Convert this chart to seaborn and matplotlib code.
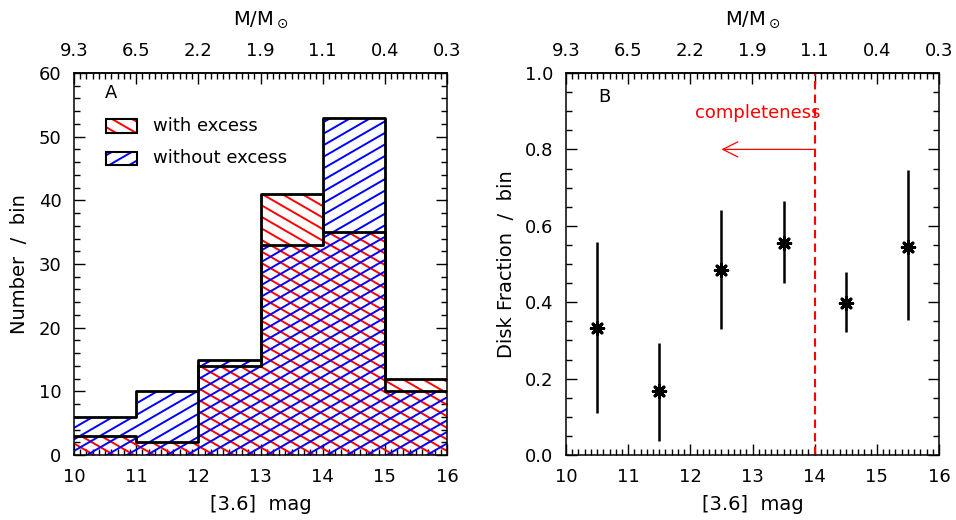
import numpy as np
import matplotlib
matplotlib.use("Agg")
import matplotlib.pyplot as plt
import seaborn as sns
from matplotlib.path import Path
from matplotlib.patches import PathPatch, Rectangle
from matplotlib.collections import LineCollection
from matplotlib.ticker import MultipleLocator, FormatStrFormatter

# ---------------- data ----------------
bin_edges = [10, 11, 12, 13, 14, 15, 16]
with_excess = [3, 2, 14, 41, 35, 12]
without_excess = [6, 10, 15, 33, 53, 10]

frac_mag = [10.5, 11.5, 12.5, 13.5, 14.5, 15.5]
disk_frac = [0.333, 0.167, 0.483, 0.554, 0.398, 0.545]
frac_lo = [0.111, 0.037, 0.329, 0.451, 0.321, 0.353]
frac_hi = [0.557, 0.294, 0.642, 0.665, 0.479, 0.745]

mass_ticks = [10, 11, 12, 13, 14, 15, 16]
mass_labels = ["9.3", "6.5", "2.2", "1.9", "1.1", "0.4", "0.3"]
completeness_mag = 14.0

# ---------------- style ----------------
sns.set_theme(style="ticks")
plt.rcParams["font.family"] = ["DejaVu Sans"]
plt.rcParams["axes.linewidth"] = 1.1
for k in ("text.color", "axes.labelcolor", "xtick.color", "ytick.color", "axes.edgecolor"):
    plt.rcParams[k] = "black"
FS = 13
FL = 14

W_PX, H_PX = 956, 520
fig = plt.figure(figsize=(W_PX / 100, H_PX / 100), dpi=100)
ax_l, ax_r, ax_t, ax_b = 74, 447, 73, 455
axA = fig.add_axes([ax_l / W_PX, 1 - ax_b / H_PX, (ax_r - ax_l) / W_PX, (ax_b - ax_t) / H_PX])
bx_l = 566
axB = fig.add_axes([bx_l / W_PX, 1 - ax_b / H_PX, (ax_r - ax_l) / W_PX, (ax_b - ax_t) / H_PX])
AW, AH = ax_r - ax_l, ax_b - ax_t


def style_axes(ax, ymajor, yminor):
    ax.set_xlim(bin_edges[0], bin_edges[-1])
    ax.xaxis.set_major_locator(MultipleLocator(1))
    ax.xaxis.set_minor_locator(MultipleLocator(0.1))
    ax.yaxis.set_major_locator(MultipleLocator(ymajor))
    ax.yaxis.set_minor_locator(MultipleLocator(yminor))
    ax.tick_params(which="both", direction="in", top=False, right=True,
                   colors="black", labelsize=FS, width=1.0)
    ax.tick_params(which="major", length=8, pad=9)
    ax.tick_params(which="minor", length=4)
    for s in ax.spines.values():
        s.set_color("black")
        s.set_linewidth(1.1)
    sec = ax.secondary_xaxis("top")
    sec.set_xticks(mass_ticks, labels=mass_labels)
    sec.xaxis.set_minor_locator(MultipleLocator(0.1))
    sec.tick_params(which="both", direction="in", labelsize=FS, width=1.0, colors="black")
    sec.tick_params(which="major", length=8, pad=9)
    sec.tick_params(which="minor", length=4)
    sec.spines["top"].set_linewidth(1.1)
    ax.set_xlabel("")
    ax.set_ylabel("")


def hatch_lines(ax, angle_deg, spacing, color, clip_path):
    t = np.tan(np.radians(angle_deg))
    step = spacing / np.cos(np.radians(angle_deg))
    if t > 0:
        cs = np.arange(-AW * t, AH + step, step)
    else:
        cs = np.arange(0, AH - AW * t + step, step)
    segs = [[(0, c / AH), (1, (c + AW * t) / AH)] for c in cs]
    lc = LineCollection(segs, colors=color, linewidths=1.4, transform=ax.transAxes, zorder=2)
    ax.add_collection(lc)
    pp = PathPatch(clip_path, transform=ax.transData, facecolor="none", edgecolor="none")
    lc.set_clip_path(pp)


def rect_path(rects):
    verts, codes = [], []
    for (x0, x1, y0, y1) in rects:
        verts += [(x0, y0), (x1, y0), (x1, y1), (x0, y1), (x0, y0)]
        codes += [Path.MOVETO, Path.LINETO, Path.LINETO, Path.LINETO, Path.CLOSEPOLY]
    return Path(verts, codes)


# ---------------- panel A ----------------
centers = [(a + b) / 2 for a, b in zip(bin_edges[:-1], bin_edges[1:])]
axA.set_ylim(0, 60)
axA.set_xlim(10, 16)

leg_x = (0.0858, 0.169)
leg1_y = (0.843, 0.880)
leg2_y = (0.759, 0.793)
def fx(f):
    return 10 + f * 6
def fy(f):
    return f * 60

red_rects = [(a, b, 0, h) for a, b, h in zip(bin_edges[:-1], bin_edges[1:], with_excess)]
red_rects.append((fx(leg_x[0]), fx(leg_x[1]), fy(leg1_y[0]), fy(leg1_y[1])))
blue_rects = [(a, b, 0, h) for a, b, h in zip(bin_edges[:-1], bin_edges[1:], without_excess)]
blue_rects.append((fx(leg_x[0]), fx(leg_x[1]), fy(leg2_y[0]), fy(leg2_y[1])))

hatch_lines(axA, -30, 10, "#ff0000", rect_path(red_rects))
hatch_lines(axA, 30, 10, "#0000ff", rect_path(blue_rects))

sns.histplot(x=centers, weights=with_excess, bins=bin_edges, fill=False, element="step",
             color="black", linewidth=2.0, ax=axA, zorder=3)
sns.histplot(x=centers, weights=without_excess, bins=bin_edges, fill=False, element="step",
             color="black", linewidth=2.0, ax=axA, zorder=3)

for ly in (leg1_y, leg2_y):
    axA.add_patch(Rectangle((leg_x[0], ly[0]), leg_x[1] - leg_x[0], ly[1] - ly[0],
                            transform=axA.transAxes, fill=False, edgecolor="black",
                            lw=1.5, zorder=4))
axA.text(0.212, 0.861, "with excess", transform=axA.transAxes, va="center", fontsize=FS)
axA.text(0.212, 0.777, "without excess", transform=axA.transAxes, va="center", fontsize=FS)
axA.text(0.083, 0.948, "A", transform=axA.transAxes, va="center", fontsize=FS)

style_axes(axA, 10, 2)
axA.set_ylim(0, 60)

# ---------------- panel B ----------------
axB.set_xlim(10, 16)
axB.set_ylim(0, 1)
axB.vlines(frac_mag, frac_lo, frac_hi, color="black", lw=1.8, zorder=3)
sns.scatterplot(x=frac_mag, y=disk_frac, marker=(8, 2, 0), s=80, color="black",
                edgecolor="black", linewidth=2.2, ax=axB, zorder=4)
axB.axvline(completeness_mag, color="#ff0000", lw=1.5, ls=(0, (4, 2.5)), zorder=2)
axB.annotate("", xy=(12.5, 0.8), xytext=(completeness_mag, 0.8),
             arrowprops=dict(arrowstyle="->,head_length=0.9,head_width=0.45",
                             color="#ff0000", lw=0.9, shrinkA=0, shrinkB=0))
axB.text(13.08, 0.895, "completeness", color="#ff0000", ha="center", va="center", fontsize=FS)
axB.text(0.086, 0.937, "B", transform=axB.transAxes, va="center", fontsize=FS)
style_axes(axB, 0.2, 0.05)
axB.yaxis.set_major_formatter(FormatStrFormatter("%.1f"))
axB.set_ylim(0, 1)

# ---------------- labels ----------------
cA = (ax_l + ax_r) / 2 / W_PX
cB = (bx_l + bx_l + AW) / 2 / W_PX
fig.text(cA, 1 - 505 / H_PX, "[3.6]  mag", ha="center", va="center", fontsize=FL)
fig.text(cB, 1 - 505 / H_PX, "[3.6]  mag", ha="center", va="center", fontsize=FL)
fig.text(cA, 1 - 20 / H_PX, r"M/M$_\odot$", ha="center", va="center", fontsize=FL)
fig.text(cB, 1 - 20 / H_PX, r"M/M$_\odot$", ha="center", va="center", fontsize=FL)
fig.text(20 / W_PX, 1 - 264 / H_PX, "Number  /  bin", rotation=90, ha="center", va="center", fontsize=FL)
fig.text(507 / W_PX, 1 - 264 / H_PX, "Disk Fraction  /  bin", rotation=90, ha="center", va="center", fontsize=FL)

fig.savefig("out.png", dpi=100)
